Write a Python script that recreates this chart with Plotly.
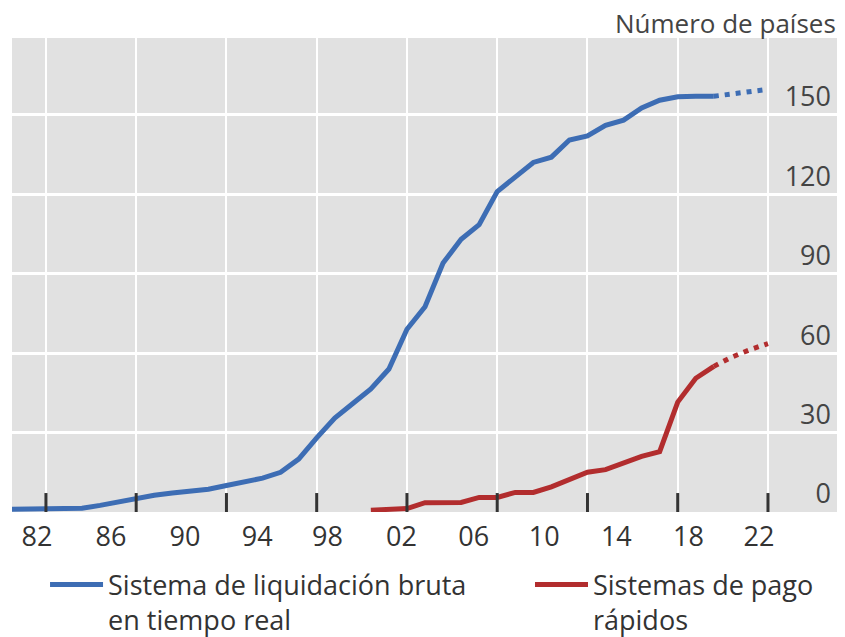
import plotly.graph_objects as go

# ── Data (x = position on a continuous year axis, value at year end) ──────────
RTGS_X = [1981, 1982, 1983, 1984, 1985, 1986, 1987, 1988, 1989, 1990, 1991,
          1992, 1993, 1994, 1995, 1996, 1997, 1998, 1999, 2000, 2001, 2002,
          2003, 2004, 2005, 2006, 2007, 2008, 2009, 2010, 2011, 2012, 2013,
          2014, 2015, 2016, 2017, 2018, 2019, 2020]
RTGS = [1, 1, 1.3, 1.3, 1.4, 2.5, 3.8, 5, 6.3, 7.2, 8,
        8.6, 10, 11.3, 12.8, 15, 20, 28, 35.5, 41, 46.5, 54,
        69, 77.5, 94, 103, 108.5, 121, 126.5, 132, 134, 140.5, 142,
        146, 148, 152.6, 155.5, 156.8, 157, 157]
RTGS_FC_X = [2020, 2021, 2022, 2023]
RTGS_FC = [157, 158, 159, 159.6]

FPS_X = [2001, 2002, 2003, 2004, 2005, 2006, 2007, 2008, 2009, 2010,
         2011, 2012, 2013, 2014, 2015, 2016, 2017, 2018, 2019, 2020]
FPS = [0.7, 1, 1.3, 3.5, 3.6, 3.6, 5.5, 5.5, 7.4, 7.4,
       9.5, 12.5, 15, 16, 18.5, 21, 22.8, 41.5, 50.5, 55]
FPS_FC_X = [2020, 2021, 2022, 2023]
FPS_FC = [55, 58.5, 61.3, 63.6]

X_LABEL_POS = [1982.5, 1986.6, 1990.7, 1994.7, 1998.6, 2002.7, 2006.7,
               2010.6, 2014.6, 2018.6, 2022.5]
X_LABELS = ["82", "86", "90", "94", "98", "02", "06", "10", "14", "18", "22"]
X_GRID = [1983, 1988, 1993, 1998, 2003, 2008, 2013, 2018, 2023]
X_RANGE = [1981.12, 2026.99]
Y_TICKS = [0, 30, 60, 90, 120, 150]

# ── Style ─────────────────────────────────────────────────────────────────────
BLUE = "#3d6db4"
RED = "#b22d2e"
BG = "#e1e1e1"
TEXT = "#333333"
TICK = "#333333"
FONT = "Open Sans"
LW = 5

# the page body adds an 8px margin, so the figure is 8px smaller and margins
# are trimmed to keep the plot area where the reference has it
fig = go.Figure()

fig.add_trace(go.Scatter(
    x=RTGS_X, y=RTGS, mode="lines",
    name="Sistema de liquidación bruta<br>en tiempo real",
    line=dict(color=BLUE, width=LW), legend="legend",
))
fig.add_trace(go.Scatter(
    x=FPS_X, y=FPS, mode="lines",
    name="Sistemas de pago<br>rápidos",
    line=dict(color=RED, width=LW), legend="legend2",
))
fig.add_trace(go.Scatter(
    x=RTGS_FC_X, y=RTGS_FC, mode="lines", showlegend=False,
    line=dict(color=BLUE, width=LW, dash="5px,6px"),
))
fig.add_trace(go.Scatter(
    x=FPS_FC_X, y=FPS_FC, mode="lines", showlegend=False,
    line=dict(color=RED, width=LW, dash="5px,6px"),
))

# short dark tick marks rising from the bottom edge at each gridline
for xv in X_GRID:
    fig.add_shape(
        type="line", xref="x", yref="paper",
        x0=xv, x1=xv, y0=0, y1=0.04,
        line=dict(color=TICK, width=3), layer="above",
    )

legend_style = dict(
    orientation="h", y=-0.1022, xanchor="left", yanchor="top",
    valign="top", itemwidth=53,
    font=dict(family=FONT, size=27, color=TEXT),
    bgcolor="rgba(0,0,0,0)",
)

fig.update_layout(
    width=837, height=629,
    margin=dict(l=4, r=5, t=30, b=124.5, autoexpand=False),
    paper_bgcolor="white",
    plot_bgcolor=BG,
    font=dict(family=FONT, size=27, color=TEXT),
    showlegend=True,
    legend=dict(x=0.0399, **legend_style),
    legend2=dict(x=0.6256, **legend_style),
    # labels every four years, gridlines every five (offset)
    xaxis=dict(
        range=X_RANGE,
        tickmode="array", tickvals=X_LABEL_POS, ticktext=X_LABELS,
        showgrid=False, ticks="", ticklabelstandoff=6,
        zeroline=False, showline=False,
        minor=dict(
            tickmode="array", tickvals=X_GRID,
            showgrid=True, gridcolor="white", gridwidth=2,
        ),
    ),
    yaxis=dict(
        range=[0, 179], side="right",
        tickmode="array", tickvals=Y_TICKS,
        ticklabelposition="inside", ticklabelshift=-18, ticklabelstandoff=6,
        showgrid=True, gridcolor="white", gridwidth=2.5,
        zeroline=False, showline=False, ticks="",
    ),
    annotations=[dict(
        text="Número de países", xref="paper", yref="paper",
        x=0.9976, y=1, xanchor="right", yanchor="middle", yshift=15,
        showarrow=False, font=dict(family=FONT, size=26, color="#444444"),
    )],
)

fig.write_html("out.html")
